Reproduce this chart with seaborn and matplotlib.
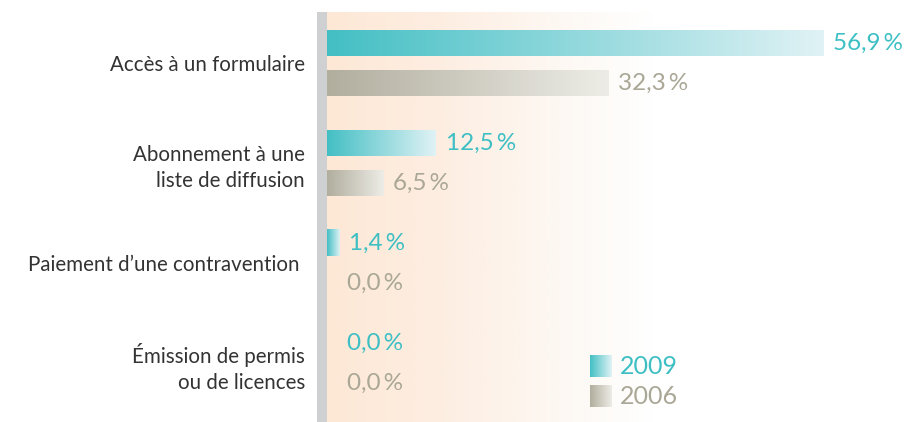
import numpy as np
import pandas as pd
import seaborn as sns
import matplotlib.pyplot as plt
from matplotlib.colors import LinearSegmentedColormap
from matplotlib.patches import Rectangle

# data
categories = ["Accès à un formulaire",
              "Abonnement à une\nliste de diffusion",
              "Paiement d’une contravention ",
              "Émission de permis\nou de licences"]
years = ["2009", "2006"]
values_2009 = [56.9, 12.5, 1.4, 0.0]
values_2006 = [32.3, 6.5, 0.0, 0.0]

teal = ("#43bfc4", "#e0f2f5")
grey = ("#b1ae9e", "#edece6")
text_colors = {"2009": "#3dbfc4", "2006": "#aaa796"}
grad_colors = {"2009": teal, "2006": grey}

df = pd.DataFrame({
    "category": categories * 2,
    "year": [years[0]] * len(categories) + [years[1]] * len(categories),
    "value": values_2009 + values_2006,
})

sns.set_theme(style="white")
plt.rcParams['font.family'] = ['Lato', 'DejaVu Sans']

fig = plt.figure(figsize=(9.09, 4.22), dpi=100)
ax = fig.add_axes([327 / 909, 0, 582 / 909, 410 / 422])

xmax = 582 / 8.72
ylim = (3.59, -0.51)

# peach background fading to white
bg_cmap = LinearSegmentedColormap.from_list(
    "bg", [(0, "#fde8d6"), (0.2, "#fdeee2"), (0.4, "#fdf8f3"), (0.56, "#ffffff"), (1, "#ffffff")])
ax.imshow(np.linspace(0, 1, 512).reshape(1, -1), cmap=bg_cmap, extent=(0, xmax, ylim[0], ylim[1]),
          aspect='auto', zorder=0)

sns.barplot(data=df, y="category", x="value", hue="year", hue_order=years, orient="h",
            width=0.8, gap=0.35, palette=[teal[0], grey[0]], legend=False, ax=ax, zorder=2)

# replace flat bars with gradient fills
grad = np.linspace(0, 1, 256).reshape(1, -1)
for i, bar in enumerate(list(ax.patches)):
    year = years[i // len(categories)]
    w = bar.get_width()
    y0 = bar.get_y()
    h = bar.get_height()
    bar.set_visible(False)
    if w <= 0:
        continue
    cmap = LinearSegmentedColormap.from_list("g" + year, grad_colors[year])
    ax.imshow(grad, cmap=cmap, extent=(0, w, y0 + h, y0), aspect='auto', zorder=3)

# value labels
for year, vals in zip(years, [values_2009, values_2006]):
    off = -0.2 if year == "2009" else 0.2
    for j, v in enumerate(vals):
        ax.text(max(v, 1.2) + 1.1, j + off, f"{v:.1f}".replace(".", ",") + "\u2009%",
                color=text_colors[year], fontsize=17.5, va='center', ha='left', zorder=4)

ax.set_xlim(0, xmax)
ax.set_ylim(*ylim)
ax.set_xlabel("")
ax.set_ylabel("")
ax.set_xticks([])
ax.tick_params(axis='y', length=0, pad=16)
for lab in ax.get_yticklabels():
    lab.set_fontsize(14.8)
    lab.set_color("#333333")
    lab.set_linespacing(1.4)
for s in ax.spines.values():
    s.set_visible(False)

# grey vertical rule
fig.add_artist(Rectangle((317 / 909, 0), 10 / 909, 410 / 422, transform=fig.transFigure,
                         color="#cfd0d2", lw=0))

# legend with gradient swatches
for k, year in enumerate(years):
    cmap = LinearSegmentedColormap.from_list("l" + year, grad_colors[year])
    x0 = (590 - 327) / 582
    y0 = (422 - 377 - k * 30) / 410
    ax.imshow(grad, cmap=cmap, extent=(x0, x0 + 22 / 582, y0, y0 + 22 / 410),
              transform=ax.transAxes, aspect='auto', zorder=4)
    ax.text(x0 + 30 / 582, y0 + 11 / 410, year, transform=ax.transAxes, color=text_colors[year],
            fontsize=18, va='center', ha='left')

ax.set_xlim(0, xmax)
ax.set_ylim(*ylim)

fig.savefig("out.png", dpi=100)
